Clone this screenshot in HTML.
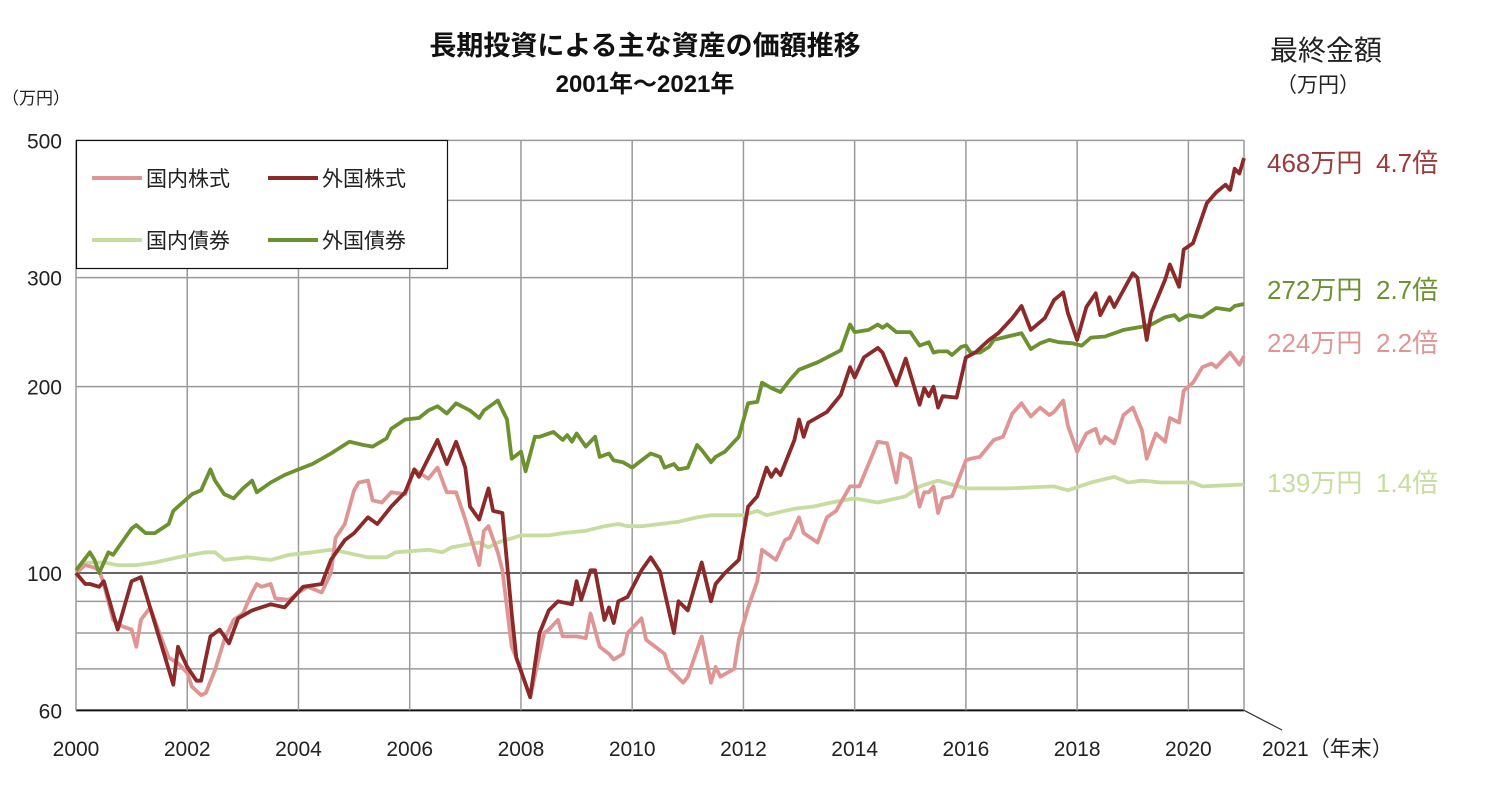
<!DOCTYPE html>
<html><head><meta charset="utf-8"><style>
body{margin:0;background:#fff;}
svg{display:block;font-family:"Liberation Sans","Noto Sans CJK JP",sans-serif;}
text{white-space:pre;}
</style></head><body>
<svg id="chart" width="1500" height="785" viewBox="0 0 1500 785">
<text x="645" y="55" text-anchor="middle" font-size="27" font-weight="bold" fill="#111">長期投資による主な資産の価額推移</text>
<text x="645" y="92" text-anchor="middle" font-size="24" font-weight="bold" fill="#111">2001年～2021年</text>
<text x="2" y="104" font-size="17" fill="#222">（万円）</text>
<text x="1270" y="60" font-size="28" fill="#222">最終金額</text>
<text x="1276" y="92" font-size="21" fill="#222">（万円）</text>
<g id="grid"></g>
<g id="axes"></g>
<g id="series"></g>
<g>
<rect x="76.5" y="140.5" width="371" height="128" fill="#fff" stroke="#111" stroke-width="1.2"/>
<g><line x1="92" y1="178" x2="142" y2="178" stroke="#e09595" stroke-width="4"/><text x="146" y="186" font-size="21" fill="#222">国内株式</text></g>
<g><line x1="268" y1="178" x2="318" y2="178" stroke="#8c2a2a" stroke-width="4"/><text x="322" y="186" font-size="21" fill="#222">外国株式</text></g>
<g><line x1="92" y1="240" x2="142" y2="240" stroke="#c6dd9f" stroke-width="4"/><text x="146" y="248" font-size="21" fill="#222">国内債券</text></g>
<g><line x1="268" y1="240" x2="318" y2="240" stroke="#6b922f" stroke-width="4"/><text x="322" y="248" font-size="21" fill="#222">外国債券</text></g>
</g>
<g font-size="26">
<text y="172" fill="#9a3a3a"><tspan x="1267">468万円</tspan><tspan x="1376">4.7倍</tspan></text>
<text y="299" fill="#6b922f"><tspan x="1267">272万円</tspan><tspan x="1376">2.7倍</tspan></text>
<text y="352" fill="#e09595"><tspan x="1267">224万円</tspan><tspan x="1376">2.2倍</tspan></text>
<text y="492" fill="#c6dd9f"><tspan x="1267">139万円</tspan><tspan x="1376">1.4倍</tspan></text>
</g>
</svg>
<script>
const yTicks=[500,400,300,200,100,90,80,70,60];
const yTickLabels=["500","","300","200","100","","","","60"];
const xTickYears=[2000,2002,2004,2006,2008,2010,2012,2014,2016,2018,2020];
const fsM=[0,2,3,5,6,9,12,14,19,21,22,24,26,27,29,31,33,35,38,42,45,49,53,55,58,60,63,65,68,71,73,74,78,80,82,84,85,87,89,90,92,94,95,98,100,102,104,107,108,109,111,112,114,115,116,117,119,122,124,126,129,130,132,135,137,138,140,143,145,147,149,150,151,152,155,156,157,158,162,165,167,168,170,173,174,177,179,182,183,184,185,186,187,190,192,194,197,199,202,204,206,209,211,213,214,216,218,220,221,223,224,228,229,231,232,235,236,238,239,241,244,246,248,249,250,251,252];
const fsV=[100,96,96,95,97,81,97,98.5,74,66,76,70.5,67,67,79,81,77,84.5,87,89,88,95,96,105,113,116,123,120,128,135,147,143,164,150,163,148,128,122,137,126,125,86,73,63,80,87,90,89,97,90.5,101,101,84,88,83,90,91.5,101,106,100.5,80,90,87,104,90,96,100,105,128,133,148,143,147,144,164,177,166,175,182,194,215,207,223,231,227,201,222,187,199,193,200,185,193,192,223,227,238,244,258,270,247,258,276,284,263,238,269,283,261,279,269,305,300,238,263,298,315,290,333,341,396,412,424,416,450,442,468];
const dsM=[0,2,4,5,6,8,10,12,13,14,16,18,20,22,24,25,27,28,30,32,34,36,38,39,40,42,43,46,48,50,53,55,56,58,60,61,63,64,66,68,71,73,76,78,80,82,84,87,88,89,91,92,94,95,98,101,102,104,105,108,110,111,113,115,116,118,119,122,123,125,127,128,131,132,135,137,138,139,142,143,145,147,148,151,153,154,156,157,160,162,164,167,169,171,173,175,177,178,180,182,183,184,185,186,187,189,192,193,195,198,200,202,204,206,208,210,211,213,214,216,218,220,221,222,224,226,228,230,231,233,235,236,238,239,241,243,245,246,249,251,252];
const dsV=[100,103,102,101,96,84,82,81,76,84,88,80,73,71.5,69,65.5,63.5,64,69.7,78,84,86,93,96,95,96,91,90.5,93,95,93,100,114,120,136,140,141,131,130,135,134,147,142,148,135,135,122,103,117,119,108,101,76,73,63,80,81,84,79,79,78.5,86,76,74,72.5,74,80,84.5,78,76,74,70,66.5,68,79,66.5,70.5,68,70,78,88,97,109,105,113,114,123,116,112,123,126,138,138,150,163,162,140,156,153,128,135,135,138,125,132,133,152,153,154,164,166,181,188,179,185,180,182,190,173,157,168,171,162,166,162,180,185,170,153,168,163,178,175,197,203,215,218,215,227,217,224];
const fbM=[0,3,4,5,7,8,12,13,15,17,20,21,22,25,27,29,30,32,34,36,38,39,42,45,48,51,55,59,62,64,67,68,71,74,76,78,80,82,85,87,88,91,93,94,96,97,99,100,103,105,106,107,108,110,112,113,115,116,118,120,122,124,126,127,129,130,132,134,135,137,138,140,143,145,147,148,150,152,154,156,160,165,167,168,171,173,174,175,177,180,182,184,185,186,188,189,191,192,193,195,197,198,201,204,206,208,210,212,215,217,219,222,226,230,232,235,237,238,240,243,246,249,250,252];
const fbV=[101,108,105,100,108,107,118,119.5,116,116,120,126,128,134,136,147,141,134,132,137,141,135,140,144,147,150,156,163,161,160,165,171,177,178,183,186,181,188,183,178,183,190,177,153,157,146,166,166,169,164,167,163,168,160,166,154,156,152,151,148,152,156,154,148,150,147,148,161,158,151,154,157,166,188,189,203,199,196,205,213,219,229,252,245,247,252,249,252,245,245,233,236,227,228,228,225,232,233,227,227,232,238,241,244,230,235,238,236,235,233,240,241,247,250,252,259,261,256,261,259,268,266,270,272];
const dbM=[0,2,6,9,13,17,22,28,30,32,37,42,46,51,55,58,63,67,69,76,79,81,87,89,91,96,102,105,110,114,117,119,122,126,130,134,137,144,147,149,155,159,163,168,173,179,182,186,189,192,201,211,214,219,224,227,230,234,241,243,252];
const dbV=[100,104,104,103,103,104,106,108,108,105,106,105,107,108,109,108,106,106,108,109,108,110,112,110,112,115,115,116,117,119,120,119,119,120,121,123,124,124,126,124,127,128,130,132,130,133,138,141,139,137,137,138,136,140,143,140,141,140,140,138,139];

const NS='http://www.w3.org/2000/svg';
const X0=76,X1=1244,Y100=573,PXD=619;
const xs=m=>X0+(X1-X0)*m/252;
const ys=v=>Y100-Math.log10(v/100)*PXD;
function mk(tag,attrs,parent){const e=document.createElementNS(NS,tag);for(const k in attrs)e.setAttribute(k,attrs[k]);parent.appendChild(e);return e;}
const grid=document.getElementById('grid'),axes=document.getElementById('axes'),series=document.getElementById('series');
yTicks.forEach((v,i)=>{
  const y=ys(v);
  const l=mk('line',{x1:X0,x2:X1,y1:y,y2:y,stroke:v===100?'#333':(v===60?'#111':'#9a9a9a'),'stroke-width':v===60?2:1.5},grid);
  
  
  if(yTickLabels[i]){
    const t=mk('text',{x:62,y:y+8,'text-anchor':'end','font-size':21,fill:'#222'},axes);
    t.textContent=yTickLabels[i];
    
    
  }
});
xTickYears.forEach(yr=>{
  const x=xs((yr-2000)*12);
  const l=mk('line',{x1:x,x2:x,y1:ys(500),y2:ys(60),stroke:'#9a9a9a','stroke-width':1.5},grid);
  
  
  const t=mk('text',{x:x,y:756,'text-anchor':'middle','font-size':21,fill:'#222'},axes);
  t.textContent=String(yr);
  
  
});
const rb=mk('line',{x1:X1,x2:X1,y1:ys(500),y2:ys(60),stroke:'#9a9a9a','stroke-width':1.5},grid);


const dg=mk('line',{x1:X1,y1:ys(60),x2:1282,y2:730,stroke:'#333','stroke-width':1.2},axes);


const et=mk('text',{x:1262,y:756,'font-size':21,fill:'#222'},axes);
et.textContent='2021（年末）';


function draw(M,V,color,name){
  const d=M.map((m,i)=>(i?'L':'M')+xs(m).toFixed(1)+','+ys(V[i]).toFixed(1)).join('');
  const p=mk('path',{d:d,fill:'none',stroke:color,'stroke-width':3.8,'stroke-linejoin':'round'},series);
  
  
}
draw(dbM,dbV,'#c6dd9f','line-domestic-bond');
draw(dsM,dsV,'#e09595','line-domestic-stock');
draw(fbM,fbV,'#6b922f','line-foreign-bond');
draw(fsM,fsV,'#8c2a2a','line-foreign-stock');
</script>
</body></html>
